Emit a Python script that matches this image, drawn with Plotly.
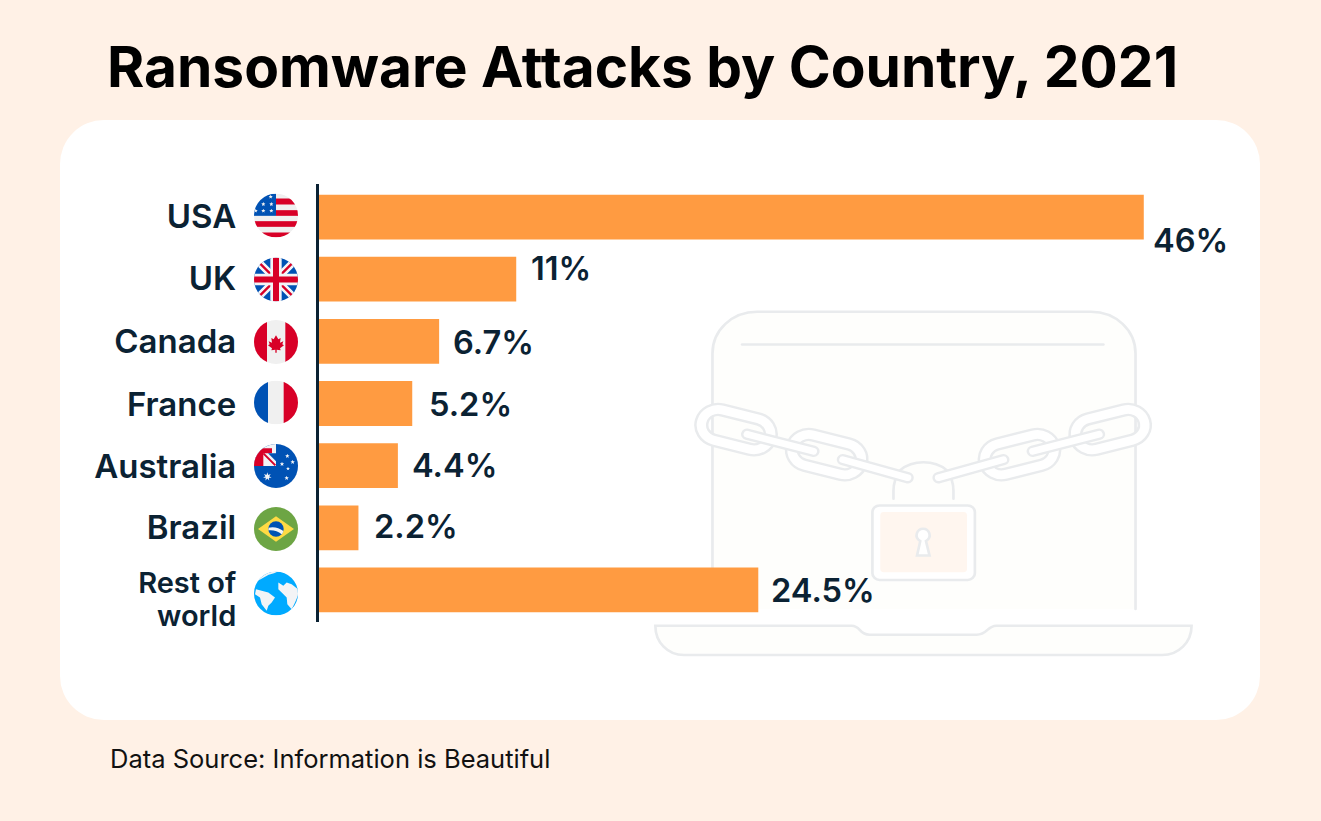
import base64, math
import plotly.graph_objects as go

# ---------- data ----------
countries = ["USA", "UK", "Canada", "France", "Australia", "Brazil", "Rest of<br>world"]
shares = [46, 11, 6.7, 5.2, 4.4, 2.2, 24.5]
share_labels = ["46%", "11%", "6.7%", "5.2%", "4.4%", "2.2%", "24.5%"]
title_text = "Ransomware Attacks by Country, 2021"
source_text = "Data Source: Information is Beautiful"

# ---------- style ----------
W, H = 1321, 821
FONT = "Inter"
INK = "#0B2233"
BAR = "#FF9B41"
CREAM = "#FFF1E6"
ROW_PX = 62.17
label_dx = [7, 13, 12, 15, 12, 14, 11]
label_dy = [-23, 11, -1, 0, 1, 2, 0]
label_sizes = [33, 33, 33, 33, 33, 33, 29]
tick_nudge_px = [2, 2.5, 3, 3.5, 4, 2, 11]


def uri(svg):
    return "data:image/svg+xml;base64," + base64.b64encode(svg.encode()).decode()


def star(cx, cy, r, n=5, inner=0.45, fill="#F0F0F0"):
    pts = []
    for i in range(2 * n):
        a = -math.pi / 2 + i * math.pi / n
        rr = r if i % 2 == 0 else r * inner
        pts.append(f"{cx + rr * math.cos(a):.1f},{cy + rr * math.sin(a):.1f}")
    return f'<polygon points="{" ".join(pts)}" fill="{fill}"/>'


def flag(body):
    return uri(
        '<svg xmlns="http://www.w3.org/2000/svg" viewBox="0 0 132 132" width="264" height="264">'
        '<defs><clipPath id="c"><circle cx="66" cy="66" r="66"/></clipPath></defs>'
        f'<g clip-path="url(#c)"><rect width="132" height="132" fill="#F0F0F0"/>{body}</g></svg>'
    )


RED, BLUE, WHITE = "#D80027", "#0052B4", "#F3F4F6"

usa = (
    f'<rect x="66" y="15" width="66" height="18" fill="{RED}"/>'
    f'<rect x="66" y="50" width="66" height="17" fill="{RED}"/>'
    f'<rect y="83" width="132" height="17" fill="{RED}"/>'
    f'<rect y="117" width="132" height="15" fill="{RED}"/>'
    f'<rect width="66" height="67" fill="{BLUE}"/>'
    + "".join(star(x, y, 6.5) for x, y in [(50, 10), (28, 32), (52, 32), (5, 52), (28, 52), (52, 52)])
)
uk = (
    f'<rect width="132" height="132" fill="{BLUE}"/>'
    f'<path d="M0 0L132 132M132 0L0 132" stroke="{WHITE}" stroke-width="22"/>'
    f'<path d="M14 14L132 132M118 14L0 132" stroke="{RED}" stroke-width="7"/>'
    f'<path d="M66 0V132M0 66H132" stroke="{WHITE}" stroke-width="34"/>'
    f'<path d="M66 0V132M0 66H132" stroke="{RED}" stroke-width="18"/>'
)
canada = (
    f'<rect width="39" height="132" fill="{RED}"/><rect x="94" width="38" height="132" fill="{RED}"/>'
    f'<polygon points="66,46 73,58 80,54 78,68 88,64 85,73 90,76 78,85 80,91 68,89 68,98 64,98 64,89 '
    f'52,91 54,85 42,76 47,73 44,64 54,68 52,54 59,58" fill="{RED}"/>'
)
france = f'<rect width="42" height="132" fill="{BLUE}"/><rect x="89" width="43" height="132" fill="{RED}"/>'
australia = (
    f'<rect width="132" height="132" fill="{BLUE}"/>'
    f'<rect width="66" height="66" fill="{WHITE}"/>'
    f'<path d="M0 13H54V28H28V66H0Z" fill="{RED}"/>'
    f'<polygon points="42,28 66,28 66,52" fill="{BLUE}"/>'
    f'<path d="M28 28L64 64" stroke="{RED}" stroke-width="6"/>'
    + star(40, 98, 13, n=7, fill=WHITE)
    + star(100, 36, 7, fill=WHITE) + star(84, 60, 7, fill=WHITE)
    + star(116, 54, 7, fill=WHITE) + star(102, 74, 6, fill=WHITE) + star(98, 102, 7, fill=WHITE)
)
brazil = (
    '<rect width="132" height="132" fill="#6DA544"/>'
    '<polygon points="12,66 66,28 120,66 66,104" fill="#FFDA44"/>'
    f'<circle cx="66" cy="66" r="23" fill="{BLUE}"/>'
    f'<path d="M44 62C58 58 76 62 88 72C87 77 85 80 83 82C72 72 57 68 43 70Z" fill="{WHITE}"/>'
)
world = (
    '<rect width="132" height="132" fill="#00AAFF"/>'
    f'<path d="M0 0H72L60 5L44 10Q26 20 12 28L0 32Z" fill="{WHITE}"/>'
    f'<path d="M6 53L23 58L43 63L63 78L53 93L43 103L38 118L23 98L18 78L3 68Z" fill="{WHITE}"/>'
    f'<path d="M73 33L88 43L98 33L113 38L132 53V72L123 93L113 113L100 98L98 78L83 63L73 53Z" fill="{WHITE}"/>'
)
flags = [usa, uk, canada, france, australia, brazil, world]
flag_centres = [215.5, 279.5, 342, 402.5, 466, 529, 593.5]

GRAY = "#E9EBED"
big = lambda cx, cy, ang: (
    f'<g transform="translate({cx} {cy}) rotate({ang})">'
    f'<rect x="-99" y="-47" width="198" height="94" rx="47" fill="none" stroke="{GRAY}" stroke-width="40"/>'
    f'<rect x="-99" y="-47" width="198" height="94" rx="47" fill="none" stroke="#FFFFFF" stroke-width="26"/></g>'
)
thin = lambda x1, y1, x2, y2: (
    f'<path d="M{x1} {y1}L{x2} {y2}" stroke="{GRAY}" stroke-width="34" stroke-linecap="round"/>'
    f'<path d="M{x1} {y1}L{x2} {y2}" stroke="#FFFFFF" stroke-width="20" stroke-linecap="round"/>'
)
laptop = (
    f'<g transform="translate(650 300) scale(.357 .334)" fill="none" stroke="{GRAY}" stroke-width="7.5" stroke-linecap="round">'
    '<path d="M175 925V160C175 90 230 35 300 35H1235C1305 35 1360 90 1360 160V925Z" fill="#FEFEFC" stroke="none"/>'
    '<path d="M175 925V160C175 90 230 35 300 35H1235C1305 35 1360 90 1360 160V925"/>'
    '<path d="M258 133H1270"/>'
    '<path d="M15 975H565C590 975 585 1002 615 1002H915C945 1002 945 975 970 975H1517C1517 1025 1480 1063 1435 1063H95C50 1063 15 1025 15 975Z" fill="#FEFEFC"/>'
    '<path d="M682 595V570Q682 540 700 510A95 85 0 0 1 832 510Q850 540 850 570V595"/>'
    + big(241, 388, 15) + big(495, 463, 15) + big(1289, 388, -15) + big(1035, 463, -15)
    + thin(272, 402, 458, 453) + thin(540, 478, 722, 532) + thin(1258, 402, 1072, 453) + thin(990, 478, 808, 532)
    + '<rect x="623" y="615" width="287" height="223" rx="20" fill="#FFFFFF"/>'
    '<rect x="645" y="635" width="243" height="180" rx="10" fill="#FFF6EF" stroke="none"/>'
    '<path d="M757 722C738 710 748 685 765 685C782 685 792 710 773 722L783 765H748Z" fill="#FFFFFF"/>'
    '</g>'
)
background = uri(
    f'<svg xmlns="http://www.w3.org/2000/svg" viewBox="0 0 {W} {H}" width="{W}" height="{H}">'
    f'<rect x="60" y="120" width="1200" height="600" rx="44" fill="#FFFFFF"/>{laptop}</svg>'
)

images = [dict(source=background, xref="paper", yref="paper", x=0, y=1, sizex=1, sizey=1,
               xanchor="left", yanchor="top", sizing="stretch", layer="below")]
for body, cy in zip(flags, flag_centres):
    images.append(dict(source=flag(body), xref="paper", yref="paper",
                       x=276 / W, y=1 - cy / H, sizex=44 / W, sizey=44 / H,
                       xanchor="center", yanchor="middle", sizing="stretch", layer="below"))

fig = go.Figure(go.Bar(
    y=countries, x=shares, orientation="h",
    marker=dict(color=BAR, line=dict(width=0)),
    width=0.72, hoverinfo="skip",
))

annotations = [
    dict(x=v, y=c, xref="x", yref="y", text=t, showarrow=False, xanchor="left", yanchor="middle",
         xshift=dx, yshift=dy, font=dict(family=FONT, size=32.6, color=INK, weight=600))
    for v, c, t, dx, dy in zip(shares, countries, share_labels, label_dx, label_dy)
]
annotations.append(dict(x=110 / W, y=1 - 758 / H, xref="paper", yref="paper", text=source_text,
                        showarrow=False, xanchor="left", yanchor="middle", xshift=-2,
                        font=dict(family=FONT, size=25.5, color="#111111")))

fig.update_layout(
    width=W, height=H, margin=dict(l=0, r=0, t=0, b=0),
    paper_bgcolor=CREAM, plot_bgcolor="rgba(0,0,0,0)", showlegend=False,
    title=dict(text=title_text, x=107 / W, xanchor="left", xref="paper",
               y=1 - 67 / H, yanchor="middle", yref="paper",
               font=dict(family=FONT, size=56.8, color="#000000", weight=700)),
    xaxis=dict(domain=[319 / W, 1215.5 / W], range=[0, 50], visible=False),
    yaxis=dict(
        domain=[1 - 622 / H, 1 - 184 / H], range=[6.515, -0.531], type="category",
        categoryorder="array", categoryarray=countries,
        tickmode="array",
        tickvals=[i + n / ROW_PX for i, n in enumerate(tick_nudge_px)],
        ticktext=[f'<span style="font-size:{s}px">{c}</span>' for c, s in zip(countries, label_sizes)],
        tickfont=dict(family=FONT, size=25, color=INK, weight=600),
        ticks="outside", ticklen=75, tickcolor="rgba(0,0,0,0)", tickwidth=1,
        showline=True, linecolor=INK, linewidth=2.5, showgrid=False, zeroline=False, automargin=False,
    ),
    images=images, annotations=annotations,
)

fig.write_html("out.html", config=dict(displayModeBar=False),
               post_script="document.body.style.margin='0';document.documentElement.style.overflow='hidden';")
